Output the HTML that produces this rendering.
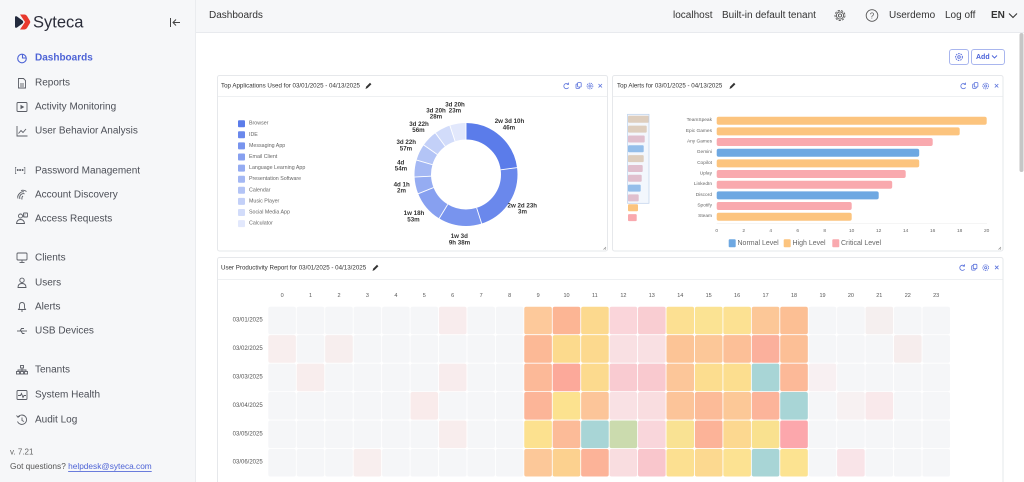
<!DOCTYPE html>
<html><head><meta charset="utf-8">
<style>
html,body{margin:0;padding:0;background:#fff;overflow:hidden;}
svg{display:block;font-family:"Liberation Sans",sans-serif;}
</style></head><body>
<svg width="1024" height="482" viewBox="0 0 1024 482" xmlns="http://www.w3.org/2000/svg">
<!-- backgrounds -->
<rect x="0" y="0" width="1024" height="482" fill="#ffffff"/>
<rect x="0" y="0" width="195" height="482" fill="#f6f7f9"/>
<line x1="195.5" y1="0" x2="195.5" y2="482" stroke="#eaecef"/>
<rect x="196" y="0" width="828" height="32" fill="#f6f7f9"/>
<line x1="196" y1="32.5" x2="1024" y2="32.5" stroke="#e8eaee"/>

<!-- logo -->
<path d="M15,17.5 Q15,15.5 17,16.5 L22.5,20.5 Q24,22 22.5,23.5 L17,27.5 Q15,28.5 15,26.5 Z" fill="#232a3d"/>
<path d="M20,14.5 L24.5,14.5 Q26,14.5 27,16 L30,21 Q30.6,22 30,23 L27,28 Q26,29.5 24.5,29.5 L20,29.5 L25,22 Z" fill="#e8392e"/>
<text x="33" y="22.5" font-size="16.5" fill="#2b2d3a" dominant-baseline="central">Syteca</text>
<!-- collapse icon -->
<g stroke="#444" stroke-width="1" fill="none">
<line x1="170.5" y1="18" x2="170.5" y2="27"/>
<line x1="173" y1="22.5" x2="180" y2="22.5"/>
<polyline points="176,19.5 173,22.5 176,25.5"/>
</g>

<!-- nav -->
<g font-size="10" fill="#4c4f57" dominant-baseline="central">
<text x="35" y="58" fill="#4d63d6" font-weight="bold">Dashboards</text>
<text x="35" y="83">Reports</text>
<text x="35" y="107">Activity Monitoring</text>
<text x="35" y="131">User Behavior Analysis</text>
<text x="35" y="171">Password Management</text>
<text x="35" y="195">Account Discovery</text>
<text x="35" y="219">Access Requests</text>
<text x="35" y="258">Clients</text>
<text x="35" y="283">Users</text>
<text x="35" y="307">Alerts</text>
<text x="35" y="331">USB Devices</text>
<text x="35" y="370">Tenants</text>
<text x="35" y="395">System Health</text>
<text x="35" y="420">Audit Log</text>
</g>
<!-- nav icons -->
<g stroke="#4d63d6" stroke-width="1.1" fill="none">
<circle cx="22" cy="58.5" r="4.3"/>
<path d="M22.5,54.2 V58 H26.3"/>
</g>
<g stroke="#5a5d65" stroke-width="0.9" fill="none">
<path d="M18.5,78.5 H23.5 L25.5,80.5 V88 H18.5 Z"/>
<line x1="20" y1="84" x2="24" y2="84"/><line x1="20" y1="86" x2="24" y2="86"/>
<rect x="17" y="102.5" width="10" height="9" rx="1"/>
<path d="M17,126 V136 H27.5"/>
<polyline points="18.5,133.5 21,130.5 23,132.5 26,129"/>
<path d="M18,198.5 Q17,196 19.5,193.5 Q22,191 24,192"/>
<path d="M20,199 Q19,196.5 21,194.5 Q23,193 24.5,194"/>
<path d="M22,199.5 Q21.5,197 23,196"/>
<path d="M21,190.5 Q24,189.5 26.5,191.5"/>
<circle cx="20.5" cy="216" r="2"/>
<path d="M16.5,223.5 Q17,219.5 20.5,219.5 Q24,219.5 24.5,223.5 Z"/>
<rect x="23.5" y="213" width="4" height="4" rx="0.5"/>
<rect x="17" y="253" width="10" height="7" rx="1"/>
<line x1="22" y1="260" x2="22" y2="262.5"/><line x1="19.5" y1="262.5" x2="24.5" y2="262.5"/>
<circle cx="22" cy="280.3" r="2.2"/>
<path d="M18,287.5 Q18,283.5 22,283.5 Q26,283.5 26,287.5 Z"/>
<path d="M18.5,309.5 H25.5 L24.5,308 V305.5 Q24.5,302.5 22,302.5 Q19.5,302.5 19.5,305.5 V308 Z"/>
<line x1="21" y1="311" x2="23" y2="311"/>
<line x1="17" y1="331" x2="27" y2="331"/>
<polyline points="20,331 21.5,328.5 24,328.5"/><polyline points="21,331 22.5,333.5 24.5,333.5"/>
<rect x="20.5" y="365.5" width="3" height="2.5"/>
<rect x="16.5" y="371.5" width="3" height="2.5"/><rect x="20.5" y="371.5" width="3" height="2.5"/><rect x="24.5" y="371.5" width="3" height="2.5"/>
<path d="M22,368 V371.5 M18,371.5 V370 H26 V371.5"/>
<rect x="17" y="390.5" width="10" height="9" rx="1"/>
<polyline points="18,395.5 20.5,395.5 21.5,393.5 23,397.5 24,395.5 26,395.5"/>
<path d="M18,417 A4.7,4.7 0 1 1 17.5,421.5"/>
<polyline points="22,417.5 22,420.5 24,421.5"/>
<polyline points="16.5,415.5 18,417.3 19.8,416"/>
</g>
<polygon points="20.5,104.7 20.5,109.3 24.3,107" fill="#5a5d65"/>
<text x="14.5" y="171" font-size="7" fill="#5a5d65" dominant-baseline="central">[•••]</text>
<text x="24.5" y="215.2" font-size="4" fill="#5a5d65" text-anchor="middle" dominant-baseline="central">?</text>

<text x="10" y="452" font-size="8" fill="#666" dominant-baseline="central">v. 7.21</text>
<text x="10" y="466" font-size="8.3" fill="#555" dominant-baseline="central">Got questions? <tspan fill="#4d63d6" text-decoration="underline">helpdesk@syteca.com</tspan></text>

<!-- top bar -->
<g font-size="10" fill="#333" dominant-baseline="central">
<text x="209" y="15.5">Dashboards</text>
<text x="673" y="15.5">localhost</text>
<text x="722" y="15.5">Built-in default tenant</text>
<text x="889" y="15.5">Userdemo</text>
<text x="945" y="15.5">Log off</text>
<text x="991" y="15.5" font-weight="bold">EN</text>
</g>
<g stroke="#555" fill="none" stroke-width="0.9">
<circle cx="840" cy="15.5" r="5" stroke-dasharray="2.2 1.3"/>
<circle cx="840" cy="15.5" r="3.6"/>
<circle cx="840" cy="15.5" r="1.6"/>
<circle cx="872" cy="15.5" r="5.8"/>
<polyline points="1009,13.5 1013,17.5 1017,13.5" stroke="#333" stroke-width="1.1"/>
</g>
<text x="872" y="16" font-size="8" fill="#555" text-anchor="middle" dominant-baseline="central">?</text>

<!-- scrollbar -->
<rect x="1019.5" y="33" width="4" height="139" rx="2" fill="#c6c6c6"/>

<!-- action buttons -->
<rect x="949.5" y="49.5" width="19" height="15" rx="2.5" fill="#fff" stroke="#a9b6ee"/>
<circle cx="959" cy="57" r="3.4" fill="none" stroke="#5b70dc" stroke-width="1" stroke-dasharray="1.6 0.9"/>
<circle cx="959" cy="57" r="1.3" fill="none" stroke="#5b70dc" stroke-width="0.9"/>
<rect x="971.5" y="49.5" width="33" height="15" rx="2.5" fill="#fff" stroke="#a9b6ee"/>
<text x="976" y="57.3" font-size="7" font-weight="bold" fill="#4a62d8" dominant-baseline="central">Add</text>
<polyline points="992,55.5 994.5,58 997,55.5" fill="none" stroke="#4a62d8" stroke-width="0.9"/>

<!-- ===== Panel 1: donut ===== -->
<rect x="217.5" y="75.5" width="390" height="175.5" rx="2" fill="#fff" stroke="#e6e8eb"/>
<line x1="218" y1="96.5" x2="607" y2="96.5" stroke="#eef0f2"/>
<text x="221" y="86" font-size="6.2" fill="#333" dominant-baseline="central">Top Applications Used for 03/01/2025 - 04/13/2025</text>
<path d="M365.5,89 L366.2,86.6 L370,82.8 L371.4,84.2 L367.6,88 Z" fill="#333"/>
<g stroke="#5a72dc" stroke-width="0.8" fill="none">
<path d="M568.3,84.3 A2.6,2.6 0 1 0 568.6,87.5"/><polyline points="568.6,82.6 568.5,84.5 566.7,84.4"/>
<rect x="576" y="84" width="3.6" height="4.4" rx="0.6"/><rect x="577.6" y="82.6" width="3.6" height="4.4" rx="0.6" fill="#fff"/>
<circle cx="590" cy="86" r="2.9" stroke-dasharray="1.3 0.7"/><circle cx="590" cy="86" r="1.1"/>
<path d="M598.5,84 L602,87.5 M602,84 L598.5,87.5"/>
</g>
<!-- legend -->
<g font-size="5.3" fill="#666" dominant-baseline="central">
<rect x="238" y="120.2" width="7" height="7" rx="1" fill="#5b7cea"/><text x="249" y="123.7">Browser</text>
<rect x="238" y="131.3" width="7" height="7" rx="1" fill="#6a88ec"/><text x="249" y="134.8">IDE</text>
<rect x="238" y="142.4" width="7" height="7" rx="1" fill="#7894ee"/><text x="249" y="145.9">Messaging App</text>
<rect x="238" y="153.5" width="7" height="7" rx="1" fill="#87a0f0"/><text x="249" y="157">Email Client</text>
<rect x="238" y="164.6" width="7" height="7" rx="1" fill="#95acf2"/><text x="249" y="168.1">Language Learning App</text>
<rect x="238" y="175.7" width="7" height="7" rx="1" fill="#a4b8f4"/><text x="249" y="179.2">Presentation Software</text>
<rect x="238" y="186.8" width="7" height="7" rx="1" fill="#b3c4f6"/><text x="249" y="190.3">Calendar</text>
<rect x="238" y="197.9" width="7" height="7" rx="1" fill="#c3d0f8"/><text x="249" y="201.4">Music Player</text>
<rect x="238" y="209" width="7" height="7" rx="1" fill="#d2dcfa"/><text x="249" y="212.5">Social Media App</text>
<rect x="238" y="220.1" width="7" height="7" rx="1" fill="#e2e8fc"/><text x="249" y="223.6">Calculator</text>
</g>
<!-- donut -->
<g fill="none" stroke-width="16.5" transform="rotate(-90 466 174.5)">
<circle cx="466" cy="174.5" r="43.25" stroke="#5b7cea" stroke-dasharray="62.13 300" stroke-dashoffset="0"/>
<circle cx="466" cy="174.5" r="43.25" stroke="#6a88ec" stroke-dasharray="60.39 300" stroke-dashoffset="-62.13"/>
<circle cx="466" cy="174.5" r="43.25" stroke="#7894ee" stroke-dasharray="37.06 300" stroke-dashoffset="-122.51"/>
<circle cx="466" cy="174.5" r="43.25" stroke="#87a0f0" stroke-dasharray="27.70 300" stroke-dashoffset="-159.58"/>
<circle cx="466" cy="174.5" r="43.25" stroke="#95acf2" stroke-dasharray="14.42 300" stroke-dashoffset="-187.28"/>
<circle cx="466" cy="174.5" r="43.25" stroke="#a4b8f4" stroke-dasharray="14.38 300" stroke-dashoffset="-201.70"/>
<circle cx="466" cy="174.5" r="43.25" stroke="#b3c4f6" stroke-dasharray="14.09 300" stroke-dashoffset="-216.08"/>
<circle cx="466" cy="174.5" r="43.25" stroke="#c3d0f8" stroke-dasharray="14.09 300" stroke-dashoffset="-230.17"/>
<circle cx="466" cy="174.5" r="43.25" stroke="#d2dcfa" stroke-dasharray="13.72 300" stroke-dashoffset="-244.26"/>
<circle cx="466" cy="174.5" r="43.25" stroke="#e2e8fc" stroke-dasharray="13.77 300" stroke-dashoffset="-257.98"/>
</g>
<g stroke="#fff" stroke-width="0.9">
<line x1="466" y1="139.5" x2="466" y2="122.5"/>
<line x1="500.69" y1="169.81" x2="517.54" y2="167.53"/>
<line x1="476.64" y1="207.84" x2="481.81" y2="224.04"/>
<line x1="447.77" y1="204.38" x2="438.91" y2="218.89"/>
<line x1="433.53" y1="187.56" x2="417.76" y2="193.90"/>
<line x1="431.04" y1="176.21" x2="414.06" y2="177.04"/>
<line x1="432.40" y1="164.71" x2="416.08" y2="159.95"/>
<line x1="437.30" y1="154.47" x2="423.36" y2="144.74"/>
<line x1="445.22" y1="146.34" x2="435.12" y2="132.66"/>
<line x1="455.05" y1="141.25" x2="449.72" y2="125.10"/>
</g>
<g font-size="6.2" font-weight="bold" fill="#333" text-anchor="middle" dominant-baseline="central">
<text x="509.5" y="121.7">2w 3d 10h</text><text x="509" y="127.9">46m</text>
<text x="522.3" y="206">2w 2d 23h</text><text x="522.5" y="212.2">3m</text>
<text x="459.3" y="236.7">1w 3d</text><text x="459.5" y="242.9">9h 38m</text>
<text x="414" y="213.7">1w 18h</text><text x="413.5" y="219.9">53m</text>
<text x="401.7" y="185">4d 1h</text><text x="401.5" y="191.2">2m</text>
<text x="400.7" y="162.9">4d</text><text x="401" y="169.1">54m</text>
<text x="406.3" y="142.7">3d 22h</text><text x="406" y="148.9">57m</text>
<text x="419" y="124.3">3d 22h</text><text x="418.5" y="130.5">56m</text>
<text x="436" y="111">3d 20h</text><text x="436" y="117.2">28m</text>
<text x="455" y="105">3d 20h</text><text x="455" y="111.2">23m</text>
</g>
<path d="M603.5,249.5 L606,247 M605,249.5 L606,248.5" stroke="#888" stroke-width="0.6"/>

<!-- ===== Panel 2: bars ===== -->
<rect x="612.5" y="75.5" width="390.5" height="175.5" rx="2" fill="#fff" stroke="#e6e8eb"/>
<line x1="613" y1="96.5" x2="1002.5" y2="96.5" stroke="#eef0f2"/>
<text x="617" y="86" font-size="6.2" fill="#333" dominant-baseline="central">Top Alerts for 03/01/2025 - 04/13/2025</text>
<path d="M729.5,89 L730.2,86.6 L734,82.8 L735.4,84.2 L731.6,88 Z" fill="#333"/>
<g stroke="#5a72dc" stroke-width="0.8" fill="none">
<path d="M965.3,84.3 A2.6,2.6 0 1 0 965.6,87.5"/><polyline points="965.6,82.6 965.5,84.5 963.7,84.4"/>
<rect x="972.7" y="84" width="3.6" height="4.4" rx="0.6"/><rect x="974.3" y="82.6" width="3.6" height="4.4" rx="0.6" fill="#fff"/>
<circle cx="985.7" cy="86" r="2.9" stroke-dasharray="1.3 0.7"/><circle cx="985.7" cy="86" r="1.1"/>
<path d="M994.8,84 L998.3,87.5 M998.3,84 L994.8,87.5"/>
</g>
<!-- mini navigator -->
<g>
<rect x="628" y="115.8" width="21" height="7" rx="1" fill="#dfc09e"/>
<rect x="628" y="125.6" width="18.7" height="7" rx="1" fill="#dfc09e"/>
<rect x="628" y="135.5" width="16.7" height="7" rx="1" fill="#e2a9b7"/>
<rect x="628" y="145.3" width="15.7" height="7" rx="1" fill="#6ea8e2"/>
<rect x="628" y="155.1" width="15.7" height="7" rx="1" fill="#dfc09e"/>
<rect x="628" y="165" width="14.7" height="7" rx="1" fill="#e2a9b7"/>
<rect x="628" y="174.8" width="13.7" height="7" rx="1" fill="#e2a9b7"/>
<rect x="628" y="184.6" width="12.7" height="7" rx="1" fill="#6ea8e2"/>
<rect x="628" y="194.4" width="10.7" height="7" rx="1" fill="#e2a9b7"/>
<rect x="628" y="204.3" width="10" height="7" rx="1" fill="#fcc47e"/>
<rect x="628" y="214.1" width="8.7" height="7" rx="1" fill="#f9a9ae"/>
<rect x="627.5" y="114.3" width="21.5" height="89" fill="#dce8f8" fill-opacity="0.35" stroke="#bcd0ea" stroke-width="0.7"/>
</g>
<!-- bars -->
<g>
<rect x="716.7" y="116.7" width="270" height="8" rx="2" fill="#fcc47e"/>
<rect x="716.7" y="127.4" width="243" height="8" rx="2" fill="#fcc47e"/>
<rect x="716.7" y="138" width="216" height="8" rx="2" fill="#f9a9ae"/>
<rect x="716.7" y="148.7" width="202.5" height="8" rx="2" fill="#6ea8e2"/>
<rect x="716.7" y="159.4" width="202.5" height="8" rx="2" fill="#fcc47e"/>
<rect x="716.7" y="170" width="189" height="8" rx="2" fill="#f9a9ae"/>
<rect x="716.7" y="180.7" width="175.5" height="8" rx="2" fill="#f9a9ae"/>
<rect x="716.7" y="191.4" width="162" height="8" rx="2" fill="#6ea8e2"/>
<rect x="716.7" y="202" width="135" height="8" rx="2" fill="#f9a9ae"/>
<rect x="716.7" y="212.7" width="135" height="8" rx="2" fill="#fcc47e"/>
</g>
<line x1="716.7" y1="223.5" x2="987" y2="223.5" stroke="#ececec" stroke-width="0.6"/>
<g font-size="4.8" fill="#666" text-anchor="end" dominant-baseline="central">
<text x="712" y="120.7">TeamSpeak</text>
<text x="712" y="131.4">Epic Games</text>
<text x="712" y="142">Any Games</text>
<text x="712" y="152.7">Gemini</text>
<text x="712" y="163.4">Copilot</text>
<text x="712" y="174">Uplay</text>
<text x="712" y="184.7">LinkedIn</text>
<text x="712" y="195.4">Discord</text>
<text x="712" y="206">Spotify</text>
<text x="712" y="216.7">Steam</text>
</g>
<g font-size="4.8" fill="#666" text-anchor="middle" dominant-baseline="central">
<text x="716.7" y="231.3">0</text><text x="743.7" y="231.3">2</text><text x="770.7" y="231.3">4</text>
<text x="797.7" y="231.3">6</text><text x="824.7" y="231.3">8</text><text x="851.7" y="231.3">10</text>
<text x="878.7" y="231.3">12</text><text x="905.7" y="231.3">14</text><text x="932.7" y="231.3">16</text>
<text x="959.7" y="231.3">18</text><text x="986.7" y="231.3">20</text>
</g>
<g font-size="7" fill="#666" dominant-baseline="central">
<rect x="728.7" y="239.3" width="7" height="8" rx="1" fill="#6ea8e2"/><text x="737.5" y="243.5">Normal Level</text>
<rect x="783.7" y="239.3" width="7" height="8" rx="1" fill="#fcc47e"/><text x="792.5" y="243.5">High Level</text>
<rect x="832.3" y="239.3" width="7" height="8" rx="1" fill="#f9a9ae"/><text x="841" y="243.5">Critical Level</text>
</g>
<path d="M998.5,249.5 L1001,247 M1000,249.5 L1001,248.5" stroke="#888" stroke-width="0.6"/>

<!-- ===== Panel 3: heatmap ===== -->
<rect x="217.5" y="257.5" width="785.5" height="240" rx="2" fill="#fff" stroke="#e6e8eb"/>
<line x1="218" y1="279.5" x2="1002.5" y2="279.5" stroke="#eef0f2"/>
<text x="221" y="268" font-size="6.2" fill="#333" dominant-baseline="central">User Productivity Report for 03/01/2025 - 04/13/2025</text>
<path d="M372.5,271 L373.2,268.6 L377,264.8 L378.4,266.2 L374.6,270 Z" fill="#333"/>
<g stroke="#5a72dc" stroke-width="0.8" fill="none">
<path d="M964.3,266 A2.6,2.6 0 1 0 964.6,269.2"/><polyline points="964.6,264.3 964.5,266.2 962.7,266.1"/>
<rect x="971.7" y="265.7" width="3.6" height="4.4" rx="0.6"/><rect x="973.3" y="264.3" width="3.6" height="4.4" rx="0.6" fill="#fff"/>
<circle cx="985.7" cy="267.7" r="2.9" stroke-dasharray="1.3 0.7"/><circle cx="985.7" cy="267.7" r="1.1"/>
<path d="M995,265.7 L998.5,269.2 M998.5,265.7 L995,269.2"/>
</g>
<g font-size="5.5" fill="#555" text-anchor="middle" dominant-baseline="central">
<text x="282.1" y="296">0</text><text x="310.5" y="296">1</text><text x="339" y="296">2</text><text x="367.4" y="296">3</text>
<text x="395.9" y="296">4</text><text x="424.3" y="296">5</text><text x="452.7" y="296">6</text><text x="481.2" y="296">7</text>
<text x="509.6" y="296">8</text><text x="538.1" y="296">9</text><text x="566.5" y="296">10</text><text x="594.9" y="296">11</text>
<text x="623.4" y="296">12</text><text x="651.8" y="296">13</text><text x="680.3" y="296">14</text><text x="708.7" y="296">15</text>
<text x="737.1" y="296">16</text><text x="765.6" y="296">17</text><text x="794" y="296">18</text><text x="822.5" y="296">19</text>
<text x="850.9" y="296">20</text><text x="879.3" y="296">21</text><text x="907.8" y="296">22</text><text x="936.2" y="296">23</text>
</g>
<g font-size="6" fill="#555" text-anchor="end" dominant-baseline="central">
<text x="262.7" y="320.5">03/01/2025</text>
<text x="262.7" y="349">03/02/2025</text>
<text x="262.7" y="377.4">03/03/2025</text>
<text x="262.7" y="405.8">03/04/2025</text>
<text x="262.7" y="434.3">03/05/2025</text>
<text x="262.7" y="462.7">03/06/2025</text>
</g>
<g>
<!-- row 0 -->
<g transform="translate(0,306.7)">
<rect x="268.3" width="27.6" height="27.6" rx="2" fill="#f5f6f8"/><rect x="296.74" width="27.6" height="27.6" rx="2" fill="#f5f6f8"/>
<rect x="325.18" width="27.6" height="27.6" rx="2" fill="#f5f6f8"/><rect x="353.62" width="27.6" height="27.6" rx="2" fill="#f5f6f8"/>
<rect x="382.06" width="27.6" height="27.6" rx="2" fill="#f5f6f8"/><rect x="410.5" width="27.6" height="27.6" rx="2" fill="#f5f6f8"/>
<rect x="438.94" width="27.6" height="27.6" rx="2" fill="#f8eced"/><rect x="467.38" width="27.6" height="27.6" rx="2" fill="#f5f6f8"/>
<rect x="495.82" width="27.6" height="27.6" rx="2" fill="#f5f6f8"/><rect x="524.26" width="27.6" height="27.6" rx="2" fill="#fdc99b"/>
<rect x="552.7" width="27.6" height="27.6" rx="2" fill="#fcb594"/><rect x="581.14" width="27.6" height="27.6" rx="2" fill="#fcd98e"/>
<rect x="609.58" width="27.6" height="27.6" rx="2" fill="#fad5da"/><rect x="638.02" width="27.6" height="27.6" rx="2" fill="#f9cdd2"/>
<rect x="666.46" width="27.6" height="27.6" rx="2" fill="#fce092"/><rect x="694.9" width="27.6" height="27.6" rx="2" fill="#fbe393"/>
<rect x="723.34" width="27.6" height="27.6" rx="2" fill="#fce192"/><rect x="751.78" width="27.6" height="27.6" rx="2" fill="#fcc797"/>
<rect x="780.22" width="27.6" height="27.6" rx="2" fill="#fcbf94"/><rect x="808.66" width="27.6" height="27.6" rx="2" fill="#f5f6f8"/>
<rect x="837.1" width="27.6" height="27.6" rx="2" fill="#f5f6f8"/><rect x="865.54" width="27.6" height="27.6" rx="2" fill="#f5efef"/>
<rect x="893.98" width="27.6" height="27.6" rx="2" fill="#f5f6f8"/><rect x="922.42" width="27.6" height="27.6" rx="2" fill="#f5f6f8"/>
</g>
<!-- row 1 -->
<g transform="translate(0,335.15)">
<rect x="268.3" width="27.6" height="27.6" rx="2" fill="#f8eeee"/><rect x="296.74" width="27.6" height="27.6" rx="2" fill="#f5f6f8"/>
<rect x="325.18" width="27.6" height="27.6" rx="2" fill="#f7eeee"/><rect x="353.62" width="27.6" height="27.6" rx="2" fill="#f5f6f8"/>
<rect x="382.06" width="27.6" height="27.6" rx="2" fill="#f5f6f8"/><rect x="410.5" width="27.6" height="27.6" rx="2" fill="#f5f6f8"/>
<rect x="438.94" width="27.6" height="27.6" rx="2" fill="#f5f6f8"/><rect x="467.38" width="27.6" height="27.6" rx="2" fill="#f5f6f8"/>
<rect x="495.82" width="27.6" height="27.6" rx="2" fill="#f5f6f8"/><rect x="524.26" width="27.6" height="27.6" rx="2" fill="#fcb996"/>
<rect x="552.7" width="27.6" height="27.6" rx="2" fill="#fcda8d"/><rect x="581.14" width="27.6" height="27.6" rx="2" fill="#fcd98e"/>
<rect x="609.58" width="27.6" height="27.6" rx="2" fill="#f9e0e3"/><rect x="638.02" width="27.6" height="27.6" rx="2" fill="#f9e0e3"/>
<rect x="666.46" width="27.6" height="27.6" rx="2" fill="#fcc496"/><rect x="694.9" width="27.6" height="27.6" rx="2" fill="#fcc798"/>
<rect x="723.34" width="27.6" height="27.6" rx="2" fill="#fcbf97"/><rect x="751.78" width="27.6" height="27.6" rx="2" fill="#fbb09c"/>
<rect x="780.22" width="27.6" height="27.6" rx="2" fill="#fcbf96"/><rect x="808.66" width="27.6" height="27.6" rx="2" fill="#f5f6f8"/>
<rect x="837.1" width="27.6" height="27.6" rx="2" fill="#f5f6f8"/><rect x="865.54" width="27.6" height="27.6" rx="2" fill="#f5f6f8"/>
<rect x="893.98" width="27.6" height="27.6" rx="2" fill="#f6eded"/><rect x="922.42" width="27.6" height="27.6" rx="2" fill="#f5f6f8"/>
</g>
<!-- row 2 -->
<g transform="translate(0,363.6)">
<rect x="268.3" width="27.6" height="27.6" rx="2" fill="#f5f6f8"/><rect x="296.74" width="27.6" height="27.6" rx="2" fill="#f8eded"/>
<rect x="325.18" width="27.6" height="27.6" rx="2" fill="#f5f6f8"/><rect x="353.62" width="27.6" height="27.6" rx="2" fill="#f5f6f8"/>
<rect x="382.06" width="27.6" height="27.6" rx="2" fill="#f5f6f8"/><rect x="410.5" width="27.6" height="27.6" rx="2" fill="#f5f6f8"/>
<rect x="438.94" width="27.6" height="27.6" rx="2" fill="#f8eced"/><rect x="467.38" width="27.6" height="27.6" rx="2" fill="#f5f6f8"/>
<rect x="495.82" width="27.6" height="27.6" rx="2" fill="#f5f6f8"/><rect x="524.26" width="27.6" height="27.6" rx="2" fill="#fcb998"/>
<rect x="552.7" width="27.6" height="27.6" rx="2" fill="#fca99a"/><rect x="581.14" width="27.6" height="27.6" rx="2" fill="#fcda8e"/>
<rect x="609.58" width="27.6" height="27.6" rx="2" fill="#f9cbd1"/><rect x="638.02" width="27.6" height="27.6" rx="2" fill="#f9c9cf"/>
<rect x="666.46" width="27.6" height="27.6" rx="2" fill="#fcc699"/><rect x="694.9" width="27.6" height="27.6" rx="2" fill="#fcdd8f"/>
<rect x="723.34" width="27.6" height="27.6" rx="2" fill="#fcde8f"/><rect x="751.78" width="27.6" height="27.6" rx="2" fill="#a8d5d6"/>
<rect x="780.22" width="27.6" height="27.6" rx="2" fill="#fcb998"/><rect x="808.66" width="27.6" height="27.6" rx="2" fill="#f8f0f2"/>
<rect x="837.1" width="27.6" height="27.6" rx="2" fill="#f5f6f8"/><rect x="865.54" width="27.6" height="27.6" rx="2" fill="#f5f6f8"/>
<rect x="893.98" width="27.6" height="27.6" rx="2" fill="#f5f6f8"/><rect x="922.42" width="27.6" height="27.6" rx="2" fill="#f5f6f8"/>
</g>
<!-- row 3 -->
<g transform="translate(0,392.05)">
<rect x="268.3" width="27.6" height="27.6" rx="2" fill="#f5f6f8"/><rect x="296.74" width="27.6" height="27.6" rx="2" fill="#f5f6f8"/>
<rect x="325.18" width="27.6" height="27.6" rx="2" fill="#f5f6f8"/><rect x="353.62" width="27.6" height="27.6" rx="2" fill="#f5f6f8"/>
<rect x="382.06" width="27.6" height="27.6" rx="2" fill="#f5f6f8"/><rect x="410.5" width="27.6" height="27.6" rx="2" fill="#f9ebeb"/>
<rect x="438.94" width="27.6" height="27.6" rx="2" fill="#f5f6f8"/><rect x="467.38" width="27.6" height="27.6" rx="2" fill="#f5f6f8"/>
<rect x="495.82" width="27.6" height="27.6" rx="2" fill="#f5f6f8"/><rect x="524.26" width="27.6" height="27.6" rx="2" fill="#fcb598"/>
<rect x="552.7" width="27.6" height="27.6" rx="2" fill="#fce28f"/><rect x="581.14" width="27.6" height="27.6" rx="2" fill="#fcc599"/>
<rect x="609.58" width="27.6" height="27.6" rx="2" fill="#f9e1e4"/><rect x="638.02" width="27.6" height="27.6" rx="2" fill="#f9dde0"/>
<rect x="666.46" width="27.6" height="27.6" rx="2" fill="#fcc499"/><rect x="694.9" width="27.6" height="27.6" rx="2" fill="#fcbb98"/>
<rect x="723.34" width="27.6" height="27.6" rx="2" fill="#fcc897"/><rect x="751.78" width="27.6" height="27.6" rx="2" fill="#fcb49a"/>
<rect x="780.22" width="27.6" height="27.6" rx="2" fill="#a8d5d6"/><rect x="808.66" width="27.6" height="27.6" rx="2" fill="#f5f6f8"/>
<rect x="837.1" width="27.6" height="27.6" rx="2" fill="#f7f1f2"/><rect x="865.54" width="27.6" height="27.6" rx="2" fill="#f9e9eb"/>
<rect x="893.98" width="27.6" height="27.6" rx="2" fill="#f5f6f8"/><rect x="922.42" width="27.6" height="27.6" rx="2" fill="#f5f6f8"/>
</g>
<!-- row 4 -->
<g transform="translate(0,420.5)">
<rect x="268.3" width="27.6" height="27.6" rx="2" fill="#f5f6f8"/><rect x="296.74" width="27.6" height="27.6" rx="2" fill="#f5f6f8"/>
<rect x="325.18" width="27.6" height="27.6" rx="2" fill="#f5f6f8"/><rect x="353.62" width="27.6" height="27.6" rx="2" fill="#f5f6f8"/>
<rect x="382.06" width="27.6" height="27.6" rx="2" fill="#f5f6f8"/><rect x="410.5" width="27.6" height="27.6" rx="2" fill="#f5f6f8"/>
<rect x="438.94" width="27.6" height="27.6" rx="2" fill="#f8eded"/><rect x="467.38" width="27.6" height="27.6" rx="2" fill="#f5f6f8"/>
<rect x="495.82" width="27.6" height="27.6" rx="2" fill="#f5f6f8"/><rect x="524.26" width="27.6" height="27.6" rx="2" fill="#fce18f"/>
<rect x="552.7" width="27.6" height="27.6" rx="2" fill="#fcbb98"/><rect x="581.14" width="27.6" height="27.6" rx="2" fill="#a8d5d6"/>
<rect x="609.58" width="27.6" height="27.6" rx="2" fill="#cbdbae"/><rect x="638.02" width="27.6" height="27.6" rx="2" fill="#f9d6db"/>
<rect x="666.46" width="27.6" height="27.6" rx="2" fill="#f9e293"/><rect x="694.9" width="27.6" height="27.6" rx="2" fill="#fcb398"/>
<rect x="723.34" width="27.6" height="27.6" rx="2" fill="#fcd890"/><rect x="751.78" width="27.6" height="27.6" rx="2" fill="#f9e18f"/>
<rect x="780.22" width="27.6" height="27.6" rx="2" fill="#fca7ac"/><rect x="808.66" width="27.6" height="27.6" rx="2" fill="#f5f6f8"/>
<rect x="837.1" width="27.6" height="27.6" rx="2" fill="#f5f6f8"/><rect x="865.54" width="27.6" height="27.6" rx="2" fill="#f5f6f8"/>
<rect x="893.98" width="27.6" height="27.6" rx="2" fill="#f5f6f8"/><rect x="922.42" width="27.6" height="27.6" rx="2" fill="#f5f6f8"/>
</g>
<!-- row 5 -->
<g transform="translate(0,448.95)">
<rect x="268.3" width="27.6" height="27.6" rx="2" fill="#f5f6f8"/><rect x="296.74" width="27.6" height="27.6" rx="2" fill="#f5f6f8"/>
<rect x="325.18" width="27.6" height="27.6" rx="2" fill="#f5f6f8"/><rect x="353.62" width="27.6" height="27.6" rx="2" fill="#f8eeee"/>
<rect x="382.06" width="27.6" height="27.6" rx="2" fill="#f5f6f8"/><rect x="410.5" width="27.6" height="27.6" rx="2" fill="#f5f6f8"/>
<rect x="438.94" width="27.6" height="27.6" rx="2" fill="#f5f6f8"/><rect x="467.38" width="27.6" height="27.6" rx="2" fill="#f5f6f8"/>
<rect x="495.82" width="27.6" height="27.6" rx="2" fill="#f5f6f8"/><rect x="524.26" width="27.6" height="27.6" rx="2" fill="#fcc899"/>
<rect x="552.7" width="27.6" height="27.6" rx="2" fill="#fcd18f"/><rect x="581.14" width="27.6" height="27.6" rx="2" fill="#fcb398"/>
<rect x="609.58" width="27.6" height="27.6" rx="2" fill="#f9dde0"/><rect x="638.02" width="27.6" height="27.6" rx="2" fill="#f9c6cc"/>
<rect x="666.46" width="27.6" height="27.6" rx="2" fill="#fce091"/><rect x="694.9" width="27.6" height="27.6" rx="2" fill="#fcd990"/>
<rect x="723.34" width="27.6" height="27.6" rx="2" fill="#fce292"/><rect x="751.78" width="27.6" height="27.6" rx="2" fill="#a8d5d6"/>
<rect x="780.22" width="27.6" height="27.6" rx="2" fill="#fce391"/><rect x="808.66" width="27.6" height="27.6" rx="2" fill="#f5f6f8"/>
<rect x="837.1" width="27.6" height="27.6" rx="2" fill="#f9e4e8"/><rect x="865.54" width="27.6" height="27.6" rx="2" fill="#f5f6f8"/>
<rect x="893.98" width="27.6" height="27.6" rx="2" fill="#f5f6f8"/><rect x="922.42" width="27.6" height="27.6" rx="2" fill="#f5f6f8"/>
</g>
</g>
</svg>
</body></html>
